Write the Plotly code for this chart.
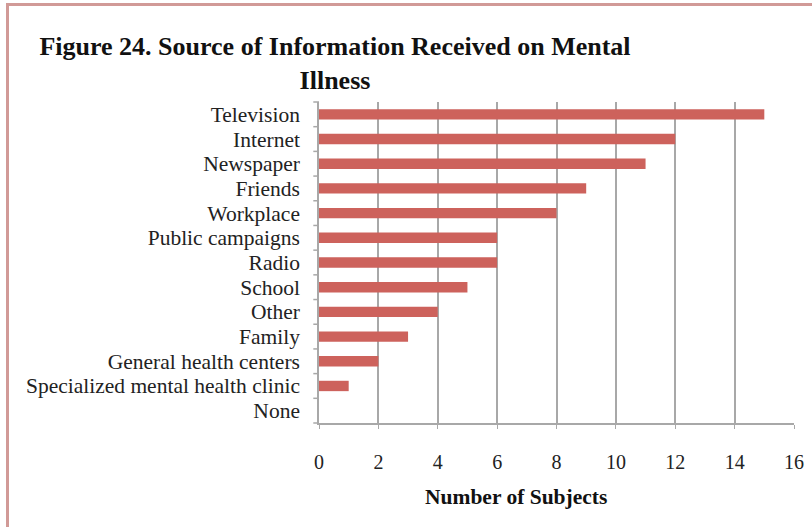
import plotly.graph_objects as go

categories = ["Television", "Internet", "Newspaper", "Friends", "Workplace",
              "Public campaigns", "Radio", "School", "Other", "Family",
              "General health centers", "Specialized mental health clinic", "None"]
values = [15, 12, 11, 9, 8, 6, 6, 5, 4, 3, 2, 1, 0]
x_ticks = [0, 2, 4, 6, 8, 10, 12, 14, 16]

W, H = 812, 527
L, R, T, B = 319, 18, 102, 104
pw, ph = W - L - R, H - T - B

def px_x(p):
    return (p - L) / pw

def px_y(p):
    return (H - B - p) / ph

fig = go.Figure(go.Bar(
    x=values, y=categories, orientation="h",
    marker=dict(color="#cd625c", line=dict(width=0)),
))

fig.update_layout(
    width=W, height=H,
    margin=dict(l=L, r=R, t=T, b=B, autoexpand=False),
    paper_bgcolor="white", plot_bgcolor="white",
    font=dict(family="Liberation Serif", size=21.5, color="#222"),
    bargap=0.58,
    showlegend=False,
    title=dict(
        text="<b>Figure 24. Source of Information Received on Mental<br>Illness</b>",
        x=335 / W, xref="container", xanchor="center",
        y=1 - 55 / H, yref="container", yanchor="top",
        font=dict(family="Liberation Serif", size=26, color="#111"),
        automargin=False,
    ),
    xaxis=dict(
        range=[0, 16], tickvals=x_ticks, ticktext=[str(v) for v in x_ticks],
        showgrid=True, gridcolor="#a8a8a8", gridwidth=1.5,
        showline=True, linecolor="#a8a8a8", linewidth=1.5,
        ticks="outside", ticklen=4, tickcolor="#a8a8a8",
        ticklabelstandoff=16, zeroline=False, automargin=False,
        tickfont=dict(size=20, color="#222"),
    ),
    yaxis=dict(
        categoryorder="array", categoryarray=categories[::-1],
        tickmode="array", tickvals=categories, ticktext=categories,
        showline=True, linecolor="#a8a8a8", linewidth=1.5,
        ticks="", showgrid=False, zeroline=False, automargin=False,
        ticklabelstandoff=13,
        tickfont=dict(size=21.5, color="#222"),
    ),
    annotations=[dict(
        text="<b>Number of Subjects</b>", xref="paper", yref="paper",
        x=px_x(516), y=px_y(497), xanchor="center", yanchor="middle",
        showarrow=False, font=dict(family="Liberation Serif", size=21.5, color="#111"),
    )],
)

# y-axis dividing tick marks between categories
shapes = []
n = len(categories)
for i in range(n + 1):
    yp = i / n
    shapes.append(dict(type="line", xref="paper", yref="paper",
                       x0=-0.012, x1=0, y0=yp, y1=yp,
                       line=dict(color="#a8a8a8", width=1.5)))
# outer border
shapes.append(dict(type="rect", xref="paper", yref="paper",
                   x0=px_x(7.5), x1=px_x(900), y0=px_y(4.5), y1=px_y(700),
                   line=dict(color="#d19a97", width=3), layer="below"))
fig.update_layout(shapes=shapes)

fig.write_html("out.html", config={"displayModeBar": False},
               post_script="document.body.style.margin='0';document.body.style.overflow='hidden';")
